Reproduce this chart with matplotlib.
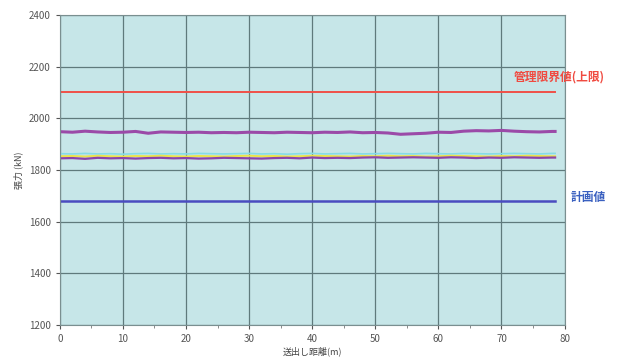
import matplotlib
matplotlib.use("Agg")
import matplotlib.pyplot as plt
import numpy as np

plt.rcParams['font.family'] = ['Noto Sans CJK JP', 'DejaVu Sans']

# sampled every 2 m along the launching distance
dist = np.arange(0, 80, 2)

upper_purple = [1948, 1946, 1950, 1947, 1945, 1946, 1949, 1942, 1947, 1946,
                1945, 1946, 1944, 1945, 1944, 1946, 1945, 1944, 1946, 1945,
                1944, 1946, 1945, 1947, 1944, 1945, 1943, 1938, 1940, 1942,
                1946, 1945, 1950, 1952, 1951, 1953, 1950, 1948, 1947, 1949]
cyan = [1863, 1862, 1864, 1862, 1863, 1861, 1863, 1864, 1862, 1863,
        1862, 1864, 1863, 1862, 1863, 1864, 1862, 1863, 1861, 1863,
        1864, 1862, 1863, 1864, 1862, 1863, 1864, 1863, 1862, 1864,
        1863, 1862, 1864, 1863, 1862, 1863, 1864, 1863, 1862, 1864]
yellow = [1853, 1854, 1852, 1855, 1853, 1852, 1854, 1853, 1855, 1853,
          1852, 1854, 1853, 1852, 1854, 1855, 1853, 1854, 1852, 1853,
          1855, 1854, 1853, 1852, 1854, 1853, 1855, 1853, 1854, 1852,
          1853, 1855, 1854, 1853, 1852, 1854, 1853, 1855, 1854, 1853]
lower_purple = [1845, 1846, 1843, 1847, 1845, 1846, 1844, 1846, 1847, 1845,
                1846, 1844, 1845, 1847, 1846, 1845, 1844, 1846, 1847, 1845,
                1848, 1846, 1847, 1846, 1848, 1849, 1847, 1848, 1849, 1848,
                1847, 1849, 1848, 1846, 1848, 1847, 1849, 1848, 1847, 1848]
line_end = 78.5
limit_upper = 2100
planned = 1680

fig = plt.figure(figsize=(6.17, 3.62), dpi=100)
ax = fig.add_axes([0.097, 0.102, 0.818, 0.857])
ax.set_facecolor('#c6e6e8')

x_full = list(dist) + [line_end]
ax.plot(x_full, upper_purple + [upper_purple[-1]], color='#9b4aa8', lw=2.2)
ax.plot(x_full, cyan + [cyan[-1]], color='#86dce6', lw=1.2)
ax.plot(x_full, yellow + [yellow[-1]], color='#ece24a', lw=1.4)
ax.plot(x_full, lower_purple + [lower_purple[-1]], color='#8c44a8', lw=1.6)
ax.plot([0, line_end], [limit_upper, limit_upper], color='#f05048', lw=1.4)
ax.plot([0, line_end], [planned, planned], color='#4a4cc0', lw=1.8)

ax.set_xlim(0, 80)
ax.set_ylim(1200, 2400)
ax.set_xticks(range(0, 81, 10))
ax.set_xticks(range(5, 80, 10), minor=True)
ax.set_yticks(range(1200, 2401, 200))
ax.grid(True, color='#5f7a7c', lw=0.9)
ax.set_axisbelow(True)
ax.tick_params(axis='both', labelsize=7, colors='#555555', length=3)
ax.tick_params(axis='x', which='minor', length=2, colors='#777777')
for s in ax.spines.values():
    s.set_color('#7a8f90')

ax.set_ylabel('張力 (kN)', fontsize=6.5, color='#444444')
ax.set_xlabel('送出し距離(m)', fontsize=6.5, color='#444444', labelpad=2)

ax.text(79.2, 2160, '管理限界値(上限)', color='#f04a40', fontsize=8.5,
        fontweight='bold', ha='center', va='center', clip_on=False)
ax.text(81, 1695, '計画値', color='#3a60c0', fontsize=8.5,
        fontweight='bold', ha='left', va='center', clip_on=False)

fig.savefig('out.png', dpi=100)
